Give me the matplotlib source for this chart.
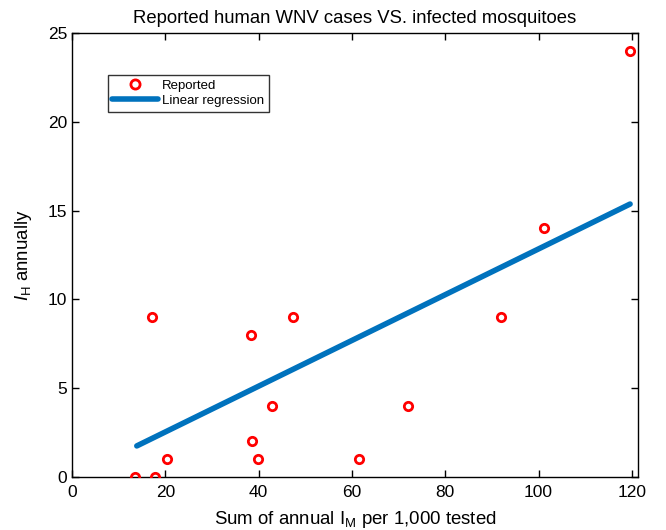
import matplotlib
matplotlib.use("Agg")
import matplotlib.pyplot as plt

plt.rcParams['font.family'] = ['Liberation Sans', 'DejaVu Sans']
plt.rcParams['mathtext.fontset'] = 'custom'
plt.rcParams['mathtext.rm'] = 'Liberation Sans'
plt.rcParams['mathtext.it'] = 'Liberation Sans:italic'

# reported cases vs infected mosquitoes
im_sum = [13.5, 17.8, 20.4, 17.1, 38.4, 38.6, 39.9, 42.9, 47.4, 61.5, 72.0, 91.9, 101.1, 119.6]
ih_cases = [0, 0, 1, 9, 8, 2, 1, 4, 9, 1, 4, 9, 14, 24]

# regression line end points
reg_x = [13.9, 119.6]
reg_y = [1.75, 15.37]

fig = plt.figure(figsize=(6.66, 5.3), dpi=100)
ax = fig.add_axes([0.108, 0.1, 0.85, 0.8377])

ax.plot(im_sum, ih_cases, 'o', color='red', markerfacecolor='none',
        markersize=6, markeredgewidth=2, label='Reported', zorder=3)
ax.plot(reg_x, reg_y, '-', color='#0072BD', linewidth=4,
        solid_capstyle='round', label='Linear regression', zorder=2)

ax.set_xlim(0, 121.3)
ax.set_ylim(0, 25)
ax.set_xticks([0, 20, 40, 60, 80, 100, 120])
ax.set_yticks([0, 5, 10, 15, 20, 25])
ax.tick_params(direction='in', top=True, right=True, labelsize=12.5, length=5, width=1)
ax.tick_params(axis='x', pad=6)
for s in ax.spines.values():
    s.set_linewidth(1)

ax.set_title('Reported human WNV cases VS. infected mosquitoes', fontsize=13.3, pad=7)
ax.set_xlabel(r'Sum of annual I$_\mathrm{M}$ per 1,000 tested', fontsize=13.4, labelpad=6)
ax.set_ylabel(r'$I_\mathrm{H}$ annually', fontsize=13.4, labelpad=10)

leg = ax.legend(loc='upper left', bbox_to_anchor=(0.063, 0.905), fontsize=9.5,
                handlelength=3.5, frameon=True, fancybox=False, borderpad=0.35,
                labelspacing=0.2, handletextpad=0.3, borderaxespad=0,
                markerscale=1.1)
leg.get_frame().set_edgecolor('black')
leg.get_frame().set_linewidth(1)

fig.savefig('out.png', dpi=100)
